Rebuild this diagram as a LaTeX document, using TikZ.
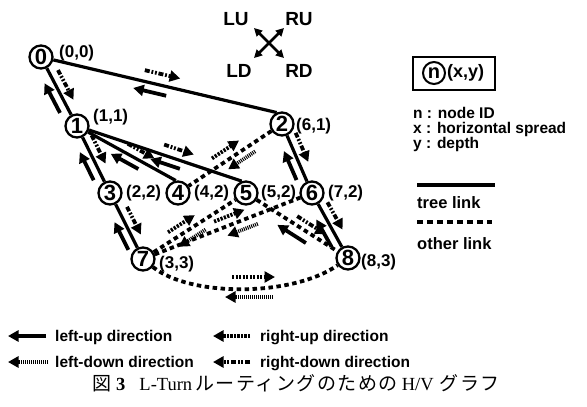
\documentclass[tikz,border=0pt]{standalone}
\usepackage{fontspec}
\setmainfont{Liberation Sans}
\newfontfamily\capserif{Liberation Serif}
\newfontfamily\capjp[LetterSpace=8]{Noto Sans CJK JP}
\usetikzlibrary{arrows.meta,calc}

% direction arrow drawn beside the link from #2 to #3,
% between fractions #4 and #5, shifted #6pt to the left of travel
\newcommand\dirarr[6]{%
  \draw[#1] ($(#2)!#4!(#3)!#6pt!90:(#3)$) -- ($(#2)!#5!(#3)!#6pt!90:(#3)$);}

\begin{document}
\begin{tikzpicture}[x=1pt,y=-1pt,
  vtx/.style={circle,draw,line width=2.3pt,minimum size=23pt,inner sep=0pt,
    font=\fontsize{22}{22}\selectfont\bfseries},
  lab/.style={anchor=west,inner sep=0pt,font=\fontsize{17}{17}\selectfont\bfseries},
  txt/.style={anchor=base west,inner sep=0pt,font=\fontsize{15.5}{15.5}\selectfont\bfseries},
  dtxt/.style={anchor=base west,inner sep=0pt,font=\fontsize{15.5}{15.5}\selectfont\bfseries},
  tree/.style={line width=3.2pt},
  other/.style={line width=3.8pt,dash pattern=on 4.5pt off 3.5pt},
  dirarrow/.style={line width=3.8pt,-{Triangle[length=10.5pt,width=11pt]}},
  lu/.style={dirarrow},
  ru/.style={dirarrow,dash pattern=on 2.2pt off 1.3pt},
  ld/.style={dirarrow,dash pattern=on 1pt off 1pt},
  rd/.style={dirarrow,dash pattern=on 5pt off 1.8pt on 1.8pt off 1.8pt on 1.8pt off 1.8pt},
]
\useasboundingbox (0,0) rectangle (587,407);

% vertices
\node[vtx] (n0) at (41,57) {0};
\node[vtx] (n1) at (77,126) {1};
\node[vtx] (n2) at (282,124) {2};
\node[vtx] (n3) at (110,193) {3};
\node[vtx] (n4) at (178,193) {4};
\node[vtx] (n5) at (246,193) {5};
\node[vtx] (n6) at (312,193) {6};
\node[vtx] (n7) at (143,259) {7};
\node[vtx] (n8) at (348,258) {8};

% (x,y) labels
\node[lab] (l0) at (59,53) {(0,0)};
\node[lab] (l1) at (93,117) {(1,1)};
\node[lab] (l2) at (296,126) {(6,1)};
\node[lab] (l3) at (126,193) {(2,2)};
\node[lab] (l4) at (194,193) {(4,2)};
\node[lab] (l5) at (261,193) {(5,2)};
\node[lab] (l6) at (328,193) {(7,2)};
\node[lab] (l7) at (159,264) {(3,3)};
\node[lab] (l8) at (361,262) {(8,3)};

% tree links
\draw[tree] (n0) -- (n1);
\draw[tree] (n0) -- (n2.115);
\draw[tree] (n1) -- (n3);
\draw[tree] (n1) -- (n4.100);
\draw[tree] (n1) -- (n5.110);
\draw[tree] (n2) -- (n6);
\draw[tree] (n3) -- (n7);
\draw[tree] (n6) -- (n8);

% other links
\draw[other] (n2) -- (n4);
\draw[other] (n7) -- (n5);
\draw[other] (n7) -- (n6);
\draw[other] (n5) -- (n8);
\draw[other] (n7) .. controls (190,297) and (292,297) .. (n8);

% direction arrows along the links
\dirarr{rd}{n0}{n1}{0.25}{0.68}{9}
\dirarr{lu}{n1}{n0}{0.25}{0.68}{9}
\dirarr{rd}{n0}{n2.115}{0.43}{0.58}{11}
\dirarr{lu}{n2.115}{n0}{0.46}{0.6}{9}
\dirarr{rd}{n1}{n3}{0.2}{0.62}{9}
\dirarr{lu}{n3}{n1}{0.25}{0.67}{9}
\dirarr{rd}{n1}{n4.100}{0.47}{0.74}{9}
\dirarr{lu}{n4.100}{n1}{0.34}{0.62}{8}
\dirarr{rd}{n1}{n5.110}{0.51}{0.69}{10}
\dirarr{lu}{n5.110}{n1}{0.36}{0.54}{8}
\dirarr{rd}{n2}{n6}{0.18}{0.6}{9}
\dirarr{lu}{n6}{n2}{0.24}{0.66}{9}
\dirarr{ld}{n2}{n4}{0.3}{0.56}{8}
\dirarr{ru}{n4}{n2}{0.38}{0.64}{10}
\dirarr{rd}{n3}{n7}{0.27}{0.69}{9}
\dirarr{lu}{n7}{n3}{0.2}{0.62}{9}
\dirarr{ru}{n7}{n5}{0.29}{0.55}{9}
\dirarr{ld}{n5}{n7}{0.44}{0.7}{9}
\dirarr{ru}{n7}{n6}{0.44}{0.62}{9}
\dirarr{ld}{n6}{n7}{0.34}{0.52}{9}
\dirarr{rd}{n5}{n8}{0.46}{0.74}{8}
\dirarr{lu}{n8}{n5}{0.36}{0.64}{10}
\dirarr{rd}{n6}{n8}{0.21}{0.63}{9}
\dirarr{lu}{n8}{n6}{0.24}{0.66}{9}
\coordinate (c78a) at (232,277);
\coordinate (c78b) at (275,277);
\coordinate (c87a) at (273,297);
\coordinate (c87b) at (225,297);
\draw[ru] (c78a) -- (c78b);
\draw[ld] (c87a) -- (c87b);

% compass of directions
\tikzset{cmp/.style={inner sep=0pt,font=\fontsize{19}{19}\selectfont\bfseries}}
\node[cmp] (cLU) at (236,19) {LU};
\node[cmp] (cRU) at (299,19) {RU};
\node[cmp] (cLD) at (239,71) {LD};
\node[cmp] (cRD) at (299,71) {RD};
\coordinate (kUL) at (254,28);
\coordinate (kUR) at (284,28);
\coordinate (kDL) at (254,58);
\coordinate (kDR) at (284,58);
\draw[line width=2.6pt,{Triangle[length=8pt,width=8pt]}-{Triangle[length=8pt,width=8pt]}] (kUL) -- (kDR);
\draw[line width=2.6pt,{Triangle[length=8pt,width=8pt]}-{Triangle[length=8pt,width=8pt]}] (kUR) -- (kDL);

% key to the node notation
\node[draw,line width=1.2pt,minimum width=82pt,minimum height=33pt,inner sep=0pt] (kbox) at (454,73.5) {};
\node[circle,draw,line width=2pt,minimum size=22pt,inner sep=0pt,
  font=\fontsize{20}{20}\selectfont\bfseries] (kn) at (434,73) {n};
\node[lab,font=\fontsize{18}{18}\selectfont\bfseries] (kxy) at (447,73) {(x,y)};
\node[txt] (t1) at (413,118) {n : node ID};
\node[txt] (t2) at (413,133) {x : horizontal spread};
\node[txt] (t3) at (413,148) {y : depth};

% key to the link styles
\coordinate (tl1) at (417,185);
\coordinate (tl2) at (495,185);
\draw[tree] (tl1) -- (tl2);
\node[txt,font=\fontsize{16.5}{16.5}\selectfont\bfseries] (t4) at (417,208) {tree link};
\coordinate (ol1) at (417,222);
\coordinate (ol2) at (492,222);
\draw[line width=3.4pt,dash pattern=on 6pt off 4pt] (ol1) -- (ol2);
\node[txt,font=\fontsize{16.5}{16.5}\selectfont\bfseries] (t5) at (417,249) {other link};

% key to the arrow styles
\coordinate (a1a) at (46,336);  \coordinate (a1b) at (8,336);
\coordinate (a2a) at (250,336); \coordinate (a2b) at (213,336);
\coordinate (a3a) at (48,362);  \coordinate (a3b) at (8,362);
\coordinate (a4a) at (250,362); \coordinate (a4b) at (213,362);
\draw[lu,line width=4.2pt] (a1a) -- (a1b);
\draw[ru,line width=4.2pt] (a2a) -- (a2b);
\draw[ld,line width=4.2pt] (a3a) -- (a3b);
\draw[rd,line width=4.2pt] (a4a) -- (a4b);
\node[dtxt] (d1) at (55,341) {left-up direction};
\node[dtxt] (d2) at (260,341) {right-up direction};
\node[dtxt] (d3) at (55,367) {left-down direction};
\node[dtxt] (d4) at (260,367) {right-down direction};

% caption
\node[anchor=base west,inner sep=0pt,font=\fontsize{19}{19}\selectfont] (cap) at (92,390)
  {\capjp 図\hspace{5pt}{\capserif\fontsize{18.5}{19}\selectfont\bfseries 3}\hspace{14pt}{\capserif\fontsize{18.5}{19}\selectfont L-Turn}\hspace{3pt}ルーティングのための\hspace{4pt}{\capserif\fontsize{18.5}{19}\selectfont H/V}\hspace{6pt}グラフ};
\end{tikzpicture}
\end{document}
